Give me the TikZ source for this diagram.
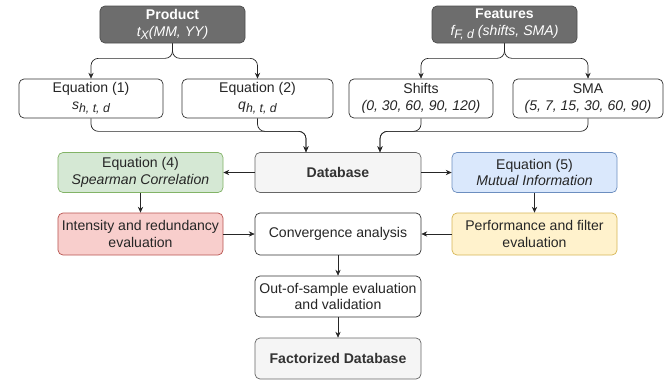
\documentclass[tikz,border=0pt]{standalone}
\usepackage{fontspec}
\setmainfont{Liberation Sans}
\usetikzlibrary{calc,arrows.meta}
\definecolor{darkfill}{HTML}{6D6D6D}
\definecolor{darkline}{HTML}{4D4D4D}
\definecolor{greyfill}{HTML}{F5F5F5}
\definecolor{greyline}{HTML}{666666}
\definecolor{greenfill}{HTML}{D5E8D4}
\definecolor{greenline}{HTML}{82B366}
\definecolor{bluefill}{HTML}{DAE8FC}
\definecolor{blueline}{HTML}{6C8EBF}
\definecolor{redfill}{HTML}{F8CECC}
\definecolor{redline}{HTML}{B85450}
\definecolor{yellowfill}{HTML}{FFF2CC}
\definecolor{yellowline}{HTML}{D6B656}
\definecolor{textgrey}{HTML}{333333}
\newcommand{\lowsub}[1]{\raisebox{-0.45ex}{\fontsize{10.5}{12}\selectfont #1}}

\begin{document}
\begin{tikzpicture}[x=0.03cm,y=-0.03cm,
  box/.style={draw=black!80,fill=white,rounded corners=0.15cm,align=center,
    font=\fontsize{12}{14}\selectfont,text=black!85,line width=0.6pt,
    minimum height=1.2cm,inner sep=1pt},
  topbox/.style={box,fill=darkfill,draw=darkline,text=white,minimum height=1.11cm},
  greybox/.style={box,fill=greyfill,draw=greyline,text=textgrey,minimum width=4.98cm},
  flow/.style={draw=black!85,line width=0.6pt,-{Stealth[length=5pt,width=4.5pt]}},
  merge/.style={flow,rounded corners=0.22cm}]
\useasboundingbox (0,0) rectangle (672,383);

\node[topbox,minimum width=4.35cm] (prod) at (172.5,24.5) {\textbf{Product}\\ \itshape t\lowsub{X}(MM, YY)};
\node[topbox,minimum width=4.35cm] (feat) at (504.5,24.5) {\textbf{Features}\\ \itshape f\lowsub{F, d} (shifts, SMA)};

\node[box,minimum width=4.32cm,minimum height=1.17cm] (eqone) at (91,98.5) {Equation (1)\\ \itshape s\lowsub{h, t, d}};
\node[box,minimum width=4.53cm,minimum height=1.17cm] (eqtwo) at (257.5,98.5) {Equation (2)\\ \itshape q\lowsub{h, t, d}};
\node[box,minimum width=4.32cm,minimum height=1.17cm] (shifts) at (421,98.5) {Shifts\\ \itshape (0, 30, 60, 90, 120)};
\node[box,minimum width=4.5cm,minimum height=1.17cm] (sma) at (588,98.5) {SMA\\ \itshape (5, 7, 15, 30, 60, 90)};

\node[greybox] (db) at (338,172.5) {\textbf{Database}};
\node[box,fill=greenfill,draw=greenline,minimum width=4.95cm] (eqfour) at (140.5,172.5) {Equation (4)\\ \itshape Spearman Correlation};
\node[box,fill=bluefill,draw=blueline,minimum width=4.95cm] (eqfive) at (534.5,172.5) {Equation (5)\\ \itshape Mutual Information};

\node[box,fill=redfill,draw=redline,minimum width=4.95cm,minimum height=1.26cm] (inten) at (140.5,234) {Intensity and redundancy\\ evaluation};
\node[box,minimum width=4.98cm,minimum height=1.26cm] (conv) at (338,234) {Convergence analysis};
\node[box,fill=yellowfill,draw=yellowline,minimum width=4.95cm,minimum height=1.26cm] (perf) at (534.5,234) {Performance and filter\\ evaluation};

\node[box,minimum width=4.98cm,minimum height=1.23cm] (oos) at (338,296.5) {Out-of-sample evaluation\\ and validation};
\node[greybox,minimum height=1.23cm] (fact) at (338,358.5) {\textbf{Factorized Database}};

\coordinate (dbleft) at ($(db.north)+(-32,0)$);
\coordinate (dbright) at ($(db.north)+(42,0)$);

\draw[merge] (prod.south) -- ++(0,15) -| (eqone.north);
\draw[merge] (prod.south) -- ++(0,15) -| (eqtwo.north);
\draw[merge] (feat.south) -- ++(0,15) -| (shifts.north);
\draw[merge] (feat.south) -- ++(0,15) -| (sma.north);

\draw[merge] (eqone.south) -- ++(0,13) -| (dbleft);
\draw[merge] (eqtwo.south) -- ++(0,13) -| (dbleft);
\draw[merge] (shifts.south) -- ++(0,13) -| (dbright);
\draw[merge] (sma.south) -- ++(0,13) -| (dbright);

\draw[flow] (db.west) -- (eqfour.east);
\draw[flow] (db.east) -- (eqfive.west);
\draw[flow] (eqfour.south) -- (inten.north);
\draw[flow] (eqfive.south) -- (perf.north);
\draw[flow] (inten.east) -- (conv.west);
\draw[flow] (perf.west) -- (conv.east);
\draw[flow] (conv.south) -- (oos.north);
\draw[flow] (oos.south) -- (fact.north);
\end{tikzpicture}
\end{document}
